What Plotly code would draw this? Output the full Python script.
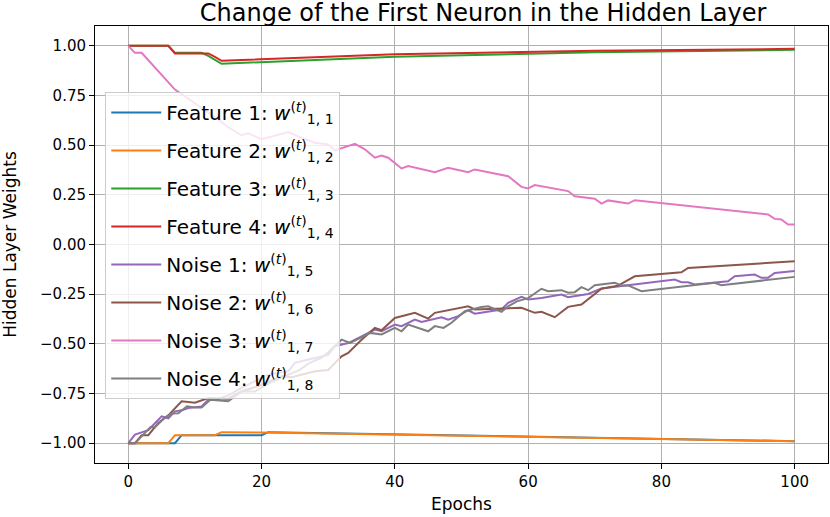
import plotly.graph_objects as go

# epochs / values
f1_ep = [0, 7, 8, 20, 21, 100]
f1_w = [-1.0, -1.0, -0.96, -0.96, -0.945, -0.99]

f2_ep = [0, 6, 7, 13, 14, 20, 100]
f2_w = [-1.0, -1.0, -0.96, -0.96, -0.945, -0.947, -0.99]

f3_ep = [0, 6, 7, 11, 12, 14, 40, 70, 100]
f3_w = [1.0, 1.0, 0.965, 0.965, 0.95, 0.91, 0.945, 0.968, 0.98]

f4_ep = [0, 6, 7, 12, 13, 14, 40, 70, 100]
f4_w = [1.0, 1.0, 0.962, 0.962, 0.945, 0.925, 0.958, 0.975, 0.985]

n1_ep = [0, 1, 2, 3, 4, 5, 6, 7, 8, 9, 11, 12, 13.5, 15, 17, 19, 21, 24, 25, 27, 30, 31, 33,
         35, 37, 38, 40, 41, 43, 44, 47, 48, 49.5, 51, 52, 56, 57, 59, 60, 62, 65, 66, 69, 71,
         82, 83, 84, 85, 89, 90, 91, 94, 95, 96, 97, 100]
n1_w = [-1.0, -0.957, -0.946, -0.935, -0.9, -0.865, -0.875, -0.84, -0.835, -0.823, -0.815,
        -0.781, -0.778, -0.76, -0.722, -0.689, -0.655, -0.638, -0.596, -0.579, -0.556, -0.512,
        -0.496, -0.462, -0.428, -0.437, -0.403, -0.411, -0.378, -0.39, -0.366, -0.378, -0.361,
        -0.331, -0.348, -0.327, -0.294, -0.263, -0.277, -0.269, -0.252, -0.265, -0.249, -0.222,
        -0.176, -0.19, -0.19, -0.201, -0.188, -0.185, -0.16, -0.151, -0.168, -0.168, -0.143, -0.134]

n2_ep = [0, 1, 2, 3, 4.5, 6, 8, 10, 12, 15, 17, 19.5, 23, 24.5, 28, 30, 32, 33, 35, 37, 38,
         40, 43, 45, 46, 51, 52, 55, 57, 59, 61, 62, 64, 66, 68, 71, 73.5, 76, 83, 84, 100]
n2_w = [-1.0, -1.0, -0.96, -0.96, -0.898, -0.86, -0.789, -0.797, -0.773, -0.776, -0.739,
        -0.713, -0.663, -0.668, -0.638, -0.632, -0.563, -0.546, -0.48, -0.42, -0.432, -0.37,
        -0.344, -0.373, -0.344, -0.311, -0.327, -0.324, -0.319, -0.319, -0.344, -0.339, -0.366,
        -0.314, -0.302, -0.223, -0.207, -0.16, -0.14, -0.118, -0.084]

n3_ep = [0, 1, 2, 7, 13.5, 15, 17, 18, 20, 24, 26, 28, 30, 31, 34, 35.5, 37, 38, 39, 41, 42,
         46, 48, 51, 52, 57, 59, 60, 61, 66, 67, 70, 71, 72, 75, 76, 96, 97, 98, 99, 100]
n3_w = [1.0, 0.965, 0.965, 0.78, 0.63, 0.59, 0.55, 0.56, 0.53, 0.566, 0.537, 0.512, 0.504,
        0.474, 0.507, 0.479, 0.437, 0.448, 0.437, 0.383, 0.395, 0.364, 0.386, 0.364, 0.378,
        0.344, 0.29, 0.282, 0.299, 0.269, 0.243, 0.23, 0.206, 0.222, 0.206, 0.223, 0.151,
        0.129, 0.126, 0.101, 0.101]

n4_ep = [0, 1, 2, 3.3, 4, 5.3, 6.5, 7.5, 8.8, 10, 11, 12.3, 15, 17, 19, 21, 23, 25.8, 27, 29,
         30, 32, 33.3, 36.3, 38, 40, 41, 42, 45, 46, 47.3, 48.5, 50.5, 53, 54, 56, 57, 58.3, 60,
         62, 63, 65, 66, 67, 68, 69, 70, 73, 74, 75, 77, 88, 89, 100]
n4_w = [-1.0, -1.0, -0.966, -0.92, -0.92, -0.877, -0.851, -0.85, -0.815, -0.82, -0.82, -0.781,
        -0.789, -0.74, -0.74, -0.7, -0.67, -0.63, -0.6, -0.57, -0.542, -0.479, -0.496, -0.445,
        -0.453, -0.42, -0.437, -0.403, -0.437, -0.411, -0.42, -0.394, -0.336, -0.315, -0.311,
        -0.339, -0.311, -0.286, -0.27, -0.223, -0.235, -0.23, -0.243, -0.24, -0.215, -0.23,
        -0.205, -0.193, -0.206, -0.206, -0.235, -0.193, -0.205, -0.163]

names = ["Feature 1", "Feature 2", "Feature 3", "Feature 4",
         "Noise 1", "Noise 2", "Noise 3", "Noise 4"]
series = [(f1_ep, f1_w), (f2_ep, f2_w), (f3_ep, f3_w), (f4_ep, f4_w),
          (n1_ep, n1_w), (n2_ep, n2_w), (n3_ep, n3_w), (n4_ep, n4_w)]
colors = ["#1f77b4", "#ff7f0e", "#2ca02c", "#d62728",
          "#9467bd", "#8c564b", "#e377c2", "#7f7f7f"]

x_ticks = [0, 20, 40, 60, 80, 100]
y_ticks = [1.0, 0.75, 0.5, 0.25, 0.0, -0.25, -0.5, -0.75, -1.0]
y_labels = ["1.00", "0.75", "0.50", "0.25", "0.00", "\u22120.25", "\u22120.50", "\u22120.75", "\u22121.00"]

fig = go.Figure()
for i, (ep, w) in enumerate(series):
    label = names[i] + ": <i>w</i><sup>(<i>t</i>)</sup><sub>1, %d</sub>" % (i + 1)
    fig.add_trace(go.Scatter(x=ep, y=w, mode="lines", name=label, legendgroup=str(i),
                             line=dict(color=colors[i], width=2)))

font = "DejaVu Sans"
axis_style = dict(showline=True, linecolor="black", linewidth=1, mirror=True,
                  ticks="outside", ticklen=5, tickwidth=1, tickcolor="black",
                  showgrid=True, gridcolor="#b0b0b0", gridwidth=1, zeroline=False,
                  automargin=False,
                  tickfont=dict(family=font, size=15, color="black"))

fig.update_layout(
    width=830, height=517,
    margin=dict(l=95, r=2, t=26, b=54),
    paper_bgcolor="white", plot_bgcolor="white",
    title=dict(text="Change of the First Neuron in the Hidden Layer", x=0.582, xanchor="center",
               y=1 - 13 / 517, yanchor="middle", font=dict(family=font, size=24, color="black")),
    xaxis=dict(range=[-5, 105], tickvals=x_ticks,
               title=dict(text="Epochs", standoff=8, font=dict(family=font, size=17, color="black")),
               **axis_style),
    yaxis=dict(range=[-1.1, 1.1], tickvals=y_ticks, ticktext=y_labels,
               title=dict(text="Hidden Layer Weights", standoff=19, font=dict(family=font, size=17, color="black")),
               **axis_style),
    legend=dict(x=0.014, y=0.849, xanchor="left", yanchor="top",
                bgcolor="rgba(255,255,255,0.8)", bordercolor="#cccccc", borderwidth=1,
                font=dict(family=font, size=20, color="black"), tracegroupgap=9,
                itemwidth=50),
    showlegend=True,
)

# page body has a default 8px margin; drop it so the figure sits at the window origin
fig.write_html("out.html", config={"displayModeBar": False},
               post_script="document.body.style.margin='0';")
